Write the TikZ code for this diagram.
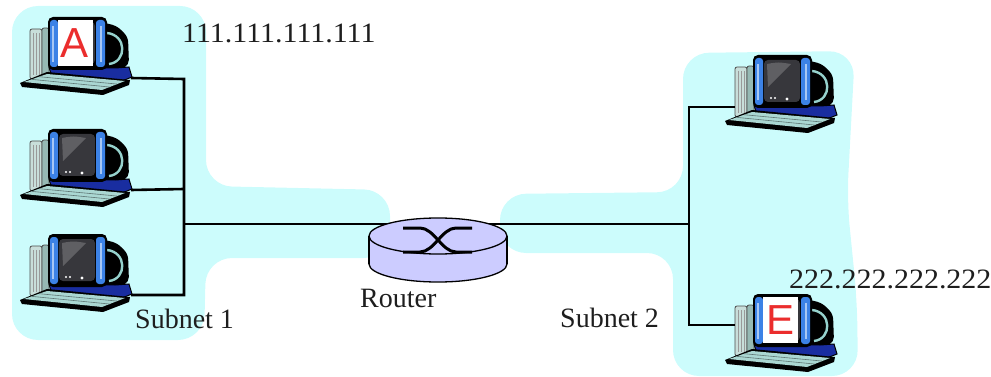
\documentclass[tikz,border=0pt]{standalone}
\usepackage{fontspec}
\setmainfont{Liberation Serif}
\newfontfamily\ipfont[FakeStretch=1.07]{Liberation Serif}
\newfontfamily\tagfont{Liberation Sans}
\usepackage{tikz}
\usetikzlibrary{calc}
\usetikzlibrary{positioning}

\definecolor{netcyan}{RGB}{204,252,252}
\definecolor{textgray}{RGB}{30,30,30}
\definecolor{rtrfill}{RGB}{204,204,255}
\definecolor{towerlt}{RGB}{200,222,218}
\definecolor{towerdk}{RGB}{150,185,180}
\definecolor{bezel}{RGB}{60,130,230}
\definecolor{screen}{RGB}{55,55,60}
\definecolor{basebl}{RGB}{25,45,160}
\definecolor{keys}{RGB}{170,215,210}
\definecolor{cable}{RGB}{150,210,205}
\definecolor{tagred}{RGB}{235,45,45}

\begin{document}
\begin{tikzpicture}[x=1pt, y=-1pt,
		net/.style={fill=netcyan, rounded corners=26pt},
		wire/.style={line width=2.6pt, black},
		lbl/.style={font=\fontsize{28}{30}\selectfont, text=textgray, inner sep=0pt, anchor=base west},
		iplbl/.style={lbl, font=\ipfont\fontsize{28}{30}\selectfont},
		tag/.style={fill=white, text=tagred, font=\tagfont\fontsize{42}{42}\selectfont, minimum width=35pt, minimum height=46pt, inner sep=0pt},
		pics/pc/.style={code={
				% tower
				\filldraw[fill=towerlt, draw=black!70, line width=0.8pt, rounded corners=2pt] (15,22) rectangle (27,72);
				\filldraw[fill=towerdk, draw=black!70, line width=0.8pt, rounded corners=2pt] (27,21) rectangle (34,71);
				\foreach \s in {18,21,24} \draw[black!40, line width=0.6pt] (\s,26) -- (\s,68);
				% back of the screen
				\fill[black, rounded corners=5pt] (82,14) -- (102,19) -- (113,30) -- (114,58) -- (102,64) -- (82,62) -- cycle;
				\draw[cable, line width=2.4pt] (92,26) .. controls (112,28) and (112,55) .. (94,57);
				% foot
				\filldraw[fill=basebl, draw=black, line width=1pt] (34,60) -- (100,61) -- (114,60) -- (117,70) -- (102,76) -- (38,74) -- cycle;
				% screen
				\fill[black, rounded corners=5pt] (33,10) rectangle (92,63);
				\fill[bezel, rounded corners=3pt] (35,13) rectangle (43,60);
				\fill[bezel, rounded corners=3pt] (81,13) rectangle (90,60);
				\fill[bezel!45!white] (37,19) rectangle (39,55);
				\fill[bezel!45!white] (85,19) rectangle (87,55);
				\fill[screen, rounded corners=4pt] (44,15) rectangle (80,57);
				\fill[white, opacity=0.2] (47,19) .. controls (58,17) .. (71,19) -- (48,42) -- cycle;
				\fill[white] (51,53) circle (1.2pt) (55,53) circle (1.2pt) (67,54) circle (1.7pt);
				% keyboard
				\fill[black] (5,76) -- (32,65) -- (115,73) -- (114,78) -- (88,88) -- (7,80) -- cycle;
				\fill[keys] (9,75) -- (32,67) -- (110,74) -- (87,83) -- cycle;
				\foreach \t in {0.33,0.66} \draw[keys!55!black, line width=0.6pt] (9+23*\t,75-8*\t) -- (87+23*\t,83-9*\t);
				\coordinate (-kb) at (116,71);
				\coordinate (-w) at (15,50);
				\coordinate (-scr) at (60,36);
		}}]
	
	\useasboundingbox (0,0) rectangle (991,377);
	
	% the two subnets
	\fill[net] (12,6) -- (206,6) -- (206,186) -- (390,190) -- (390,258) -- (206,258) -- (204,340) -- (12,340) -- cycle;
	\fill[net] (683,53) -- (855,51) -- (847,200) -- (857,300) -- (858,376) -- (673,376) -- (673,253) -- (500,253) -- (500,194) -- (683,192) -- cycle;
	
	\coordinate (rtr) at (438,236);
	\coordinate (busA) at (184,79);
	\coordinate (busB) at (184,189);
	\coordinate (busC) at (184,295);
	\coordinate (bus1) at (184,224);
	\coordinate (busD) at (689,107);
	\coordinate (busE) at (689,325);
	\coordinate (bus2) at (689,224);
	
	\pic (pcA) at (15,7) {pc};
	\pic (pcB) at (15,119) {pc};
	\pic (pcC) at (15,224) {pc};
	\pic (pcD) at (720,45) {pc};
	\pic (pcE) at (720,284) {pc};
	
	\node[tag] (tagA) at (pcA-scr) {A};
	\node[tag] (tagE) at (pcE-scr) {E};
	
	\draw[wire] (pcA-kb) -- (busA) -- (busC) -- (pcC-kb);
	\draw[wire] (pcB-kb) -- (busB);
	\draw[wire] (bus1) -- (bus1 -| rtr);
	\draw[wire] (busD -| pcD-w) -- (busD) -- (busE) -- (busE -| pcE-w);
	\draw[wire] (bus2) -- (bus2 -| rtr);
	
	% router
	\filldraw[fill=rtrfill, line width=1.3pt] ([yshift=-28pt]rtr) ellipse[x radius=69pt, y radius=18pt];
	\fill[rtrfill] ([xshift=-69pt]rtr) rectangle ([xshift=69pt, yshift=-28pt]rtr);
	\draw[line width=1.3pt] ([xshift=-69pt]rtr) -- ++(0,28);
	\draw[line width=1.3pt] ([xshift=69pt]rtr) -- ++(0,28);
	\filldraw[fill=rtrfill, line width=1.3pt] (rtr) ellipse[x radius=69pt, y radius=18pt];
	\draw[line width=3pt] (403,228) -- (420,228) .. controls (434,228) and (442,252) .. (456,252) -- (472,252);
	\draw[line width=3pt] (403,252) -- (420,252) .. controls (434,252) and (442,228) .. (456,228) -- (472,228);
	
	\node[iplbl] (ip1) at (182,43) {111.111.111.111};
	\node[lbl] (sub1) at (135,328) {Subnet 1};
	\node[lbl] (rname) at (360,307) {Router};
	\node[lbl] (sub2) at (560,327) {Subnet 2};
	\node[iplbl] (ip2) at (789,288) {222.222.222.222};
\end{tikzpicture}
\end{document}
